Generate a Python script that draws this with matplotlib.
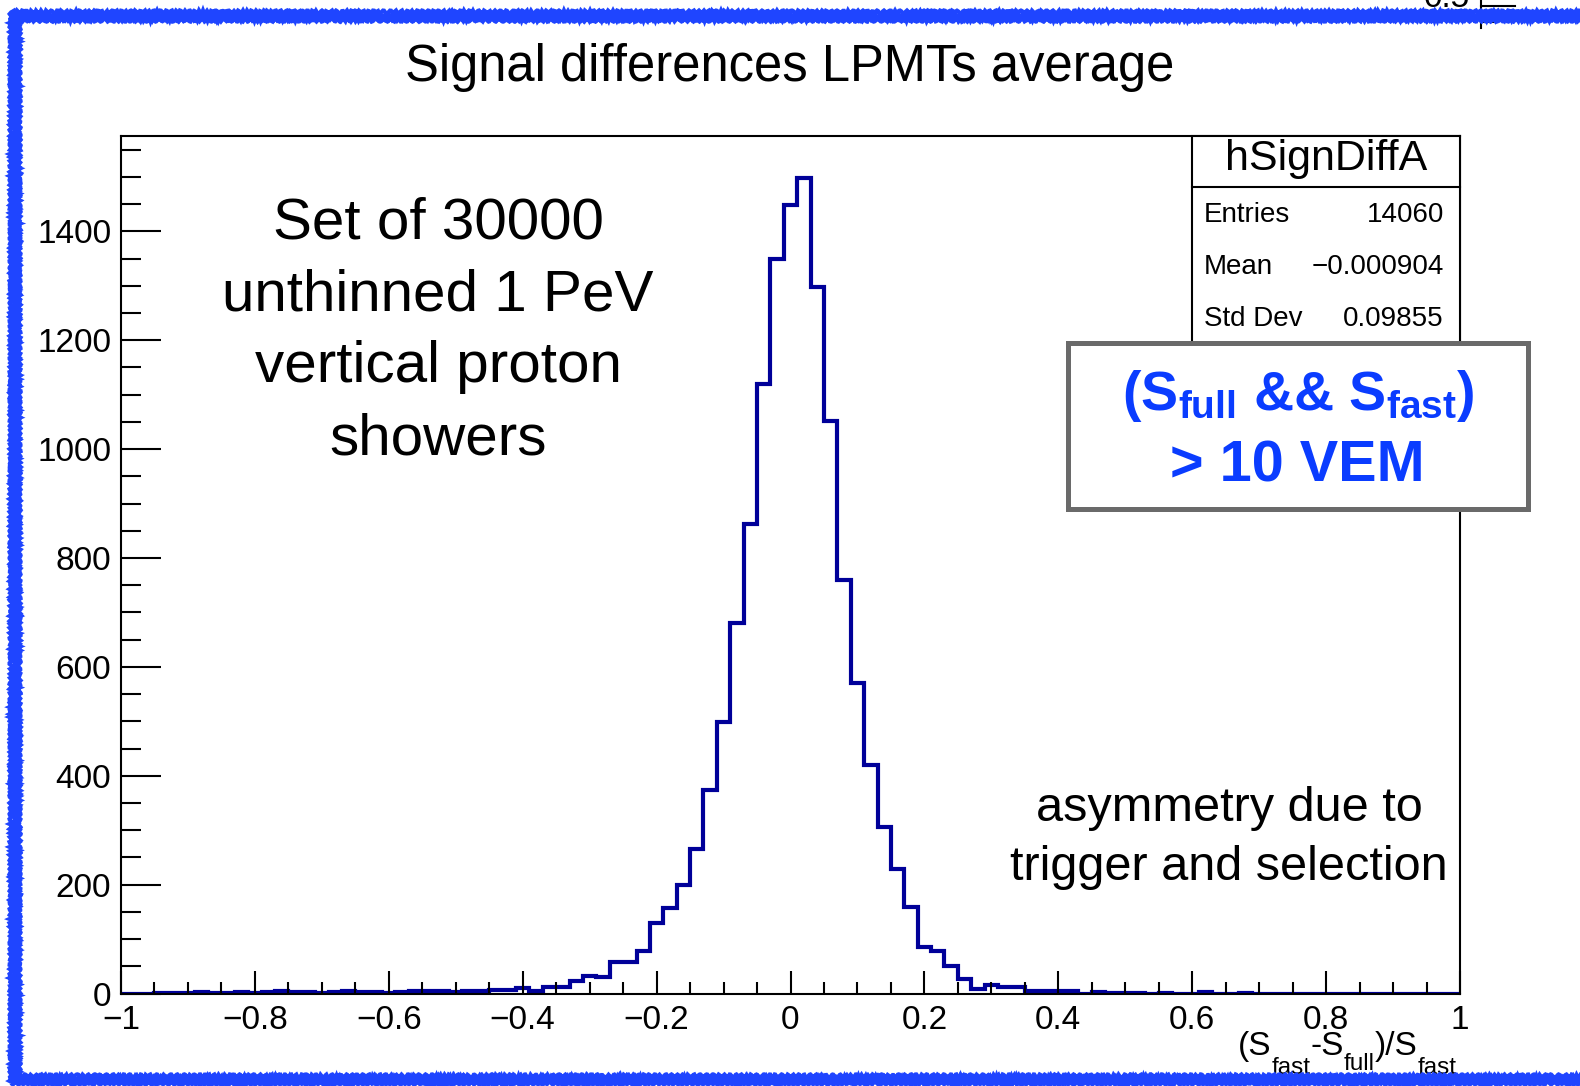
import numpy as np
import matplotlib
matplotlib.use("Agg")
import matplotlib.pyplot as plt
from matplotlib.patches import Rectangle
from matplotlib.lines import Line2D
from matplotlib.ticker import MultipleLocator

plt.rcParams['font.family'] = ['Liberation Sans', 'DejaVu Sans']
plt.rcParams['mathtext.fontset'] = 'custom'
plt.rcParams['mathtext.rm'] = 'Liberation Sans'
plt.rcParams['mathtext.it'] = 'Liberation Sans'
plt.rcParams['mathtext.bf'] = 'Liberation Sans:bold'

# histogram contents, bins centred on -1.00, -0.98, ..., 1.00
counts_left_tail = [0, 0, 0, 1, 1, 1, 2, 1, 1, 2, 1, 2, 4, 2, 2, 1, 2, 4, 2, 2, 1, 2, 5, 5, 4, 2]
counts_left = [4, 4, 6, 6, 10, 5, 12, 12, 23, 33, 31, 57, 58, 78, 130, 157, 199, 266,
               374, 498, 680, 862, 1119, 1350]
counts_right = [1449, 1497, 1297, 1051, 760, 570, 419, 306, 229, 159, 85, 78, 51, 26, 9,
                15, 12, 12, 5, 5, 4, 4, 0, 2, 1, 1]
counts_right_tail = [1, 0, 1, 0, 0, 2, 0, 0, 1, 0, 0, 0, 0, 0, 0, 0, 0, 0, 0, 0, 0, 0, 0, 0, 0]
counts = np.array(counts_left_tail + counts_left + counts_right + counts_right_tail)
bin_edges = np.linspace(-1.01, 1.01, len(counts) + 1)

title = "Signal differences LPMTs average"
hist_name = "hSignDiffA"
stat_labels = ["Entries", "Mean", "Std Dev"]
stat_values = ["14060", "\u22120.000904", "0.09855"]
note_left = ["Set of 30000", "unthinned 1 PeV", "vertical proton", "showers"]
note_right = ["asymmetry due to", "trigger and selection"]
# x title pieces in ROOT style: (text, is_subscript)
xtitle_parts = [("(S", False), ("fast", True), ("-S", False), ("full", True),
                (")/S", False), ("fast", True)]

W, H = 1580, 1086
def fx(x):
    return x / W
def fy(y):
    return 1 - y / H

fig = plt.figure(figsize=(15.8, 10.86), dpi=100)
ax = fig.add_axes([fx(121), fy(993.5), fx(1460) - fx(121), fy(136) - fy(993.5)])

ax.stairs(counts, bin_edges, color='#000099', lw=3, baseline=None)
ax.set_xlim(-1, 1)
ax.set_ylim(0, 1575)

for s in ax.spines.values():
    s.set_linewidth(1.5)
ax.xaxis.set_major_locator(MultipleLocator(0.2))
ax.xaxis.set_minor_locator(MultipleLocator(0.05))
ax.yaxis.set_major_locator(MultipleLocator(200))
ax.yaxis.set_minor_locator(MultipleLocator(50))
ax.tick_params(axis='both', which='both', direction='in', width=1.5, labelsize=24)
ax.tick_params(axis='x', which='major', length=16.5, pad=8)
ax.tick_params(axis='x', which='minor', length=8.4)
ax.tick_params(axis='y', which='major', length=28.8, pad=7)
ax.tick_params(axis='y', which='minor', length=14.4)
ax.set_xticks([-1, -0.8, -0.6, -0.4, -0.2, 0, 0.2, 0.4, 0.6, 0.8, 1])
ax.set_xticklabels(["\u22121", "\u22120.8", "\u22120.6", "\u22120.4", "\u22120.2", "0",
                    "0.2", "0.4", "0.6", "0.8", "1"])

# x title, built piece by piece so the subscripts sit low like in ROOT
renderer = fig.canvas.get_renderer()
xpos = 1238
for txt, sub in xtitle_parts:
    size = 17.5 if sub else 24
    base = 1074 if sub else 1055
    if txt == "full":
        base = 1070
    t = fig.text(fx(xpos), fy(base), txt, ha='left', va='baseline', fontsize=size)
    xpos += t.get_window_extent(renderer).width

fig.text(fx(790), fy(81), title, ha='center', va='baseline', fontsize=36.5)

# text notes
for i, line in enumerate(note_left):
    fig.text(fx(438), fy(238.8 + 71.8 * i), line, ha='center', va='baseline', fontsize=42)
for i, line in enumerate(note_right):
    fig.text(fx(1229), fy(821 + 59 * i), line, ha='center', va='baseline', fontsize=35)

# stats box
fig.add_artist(Rectangle((fx(1192), fy(345)), fx(1460) - fx(1192), fy(136) - fy(345),
                         transform=fig.transFigure, facecolor='white', edgecolor='black',
                         lw=1.5, zorder=5))
fig.add_artist(Line2D([fx(1192), fx(1460)], [fy(186.5), fy(186.5)], color='black',
                      lw=1.5, transform=fig.transFigure, zorder=6))
fig.text(fx(1326), fy(159), hist_name, ha='center', va='center', fontsize=31, zorder=6)
for i, (lab, val) in enumerate(zip(stat_labels, stat_values)):
    yy = fy(215 + 51.9 * i)
    fig.text(fx(1204), yy, lab, ha='left', va='center', fontsize=20, zorder=6)
    fig.text(fx(1444), yy, val, ha='right', va='center', fontsize=20, zorder=6)

# selection box
fig.add_artist(Rectangle((fx(1068), fy(509)), fx(1528) - fx(1068), fy(343) - fy(509),
                         transform=fig.transFigure, facecolor='white', edgecolor='#6a6a6a',
                         lw=3.6, zorder=7))
blue = '#0a3cff'
fig.text(fx(1298), fy(396), r'(S$_{\mathbf{full}}$ && S$_{\mathbf{fast}}$)',
         ha='center', va='center', fontsize=40, fontweight='bold', color=blue, zorder=8)
fig.text(fx(1297), fy(466), "> 10 VEM", ha='center', va='center', fontsize=41.5,
         fontweight='bold', color=blue, zorder=8)

# leftover piece of a neighbouring plot in the top-right corner
fig.text(fx(1470), fy(7), "0.5", ha='right', va='baseline', fontsize=24, zorder=8)
fig.add_artist(Line2D([fx(1480.5), fx(1480.5)], [fy(0), fy(28)], color='black', lw=1.5,
                      transform=fig.transFigure, zorder=8))
fig.add_artist(Line2D([fx(1480.5), fx(1515)], [fy(6), fy(6)], color='black', lw=1.5,
                      transform=fig.transFigure, zorder=8))
fig.add_artist(Line2D([fx(1480.5), fx(1497)], [fy(22), fy(22)], color='black', lw=1.5,
                      transform=fig.transFigure, zorder=8))

# hand drawn blue frame, a few rough strokes on top of each other
for off, lw, ln in [(-4, 3.0, 5), (-1.5, 3.5, 7), (1.5, 3.5, 4), (4, 2.5, 6)]:
    frame = Rectangle((fx(15 + off), fy(1079 - off)), fx(1620) - fx(15 + off),
                      fy(16 + off) - fy(1079 - off),
                      transform=fig.transFigure, fill=False, edgecolor='#1f45ff',
                      lw=lw, zorder=10, clip_on=False)
    frame.set_sketch_params(scale=1.5, length=ln, randomness=2)
    fig.add_artist(frame)

fig.savefig("out.png", dpi=100)
